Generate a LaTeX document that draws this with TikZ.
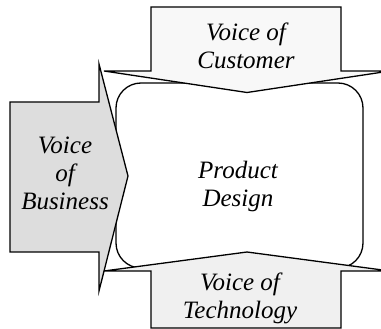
\documentclass[tikz,border=0pt]{standalone}
\usepackage{fontspec}
\setmainfont{Liberation Serif}[ItalicFont={Liberation Serif Italic}]
\begin{document}
\begin{tikzpicture}[x=1pt,y=-1pt,
  outline/.style={draw=black, line width=1.3pt, line join=miter},
  lbl/.style={font=\fontsize{25}{28}\selectfont\itshape, align=center, inner sep=0pt}]
\useasboundingbox (0,0) rectangle (381,329);
% product design box
\draw[outline, fill=white, rounded corners=25pt] (116,83) rectangle (363,268);
\node[lbl] (pd) at (238,186) {Product\\Design};
% top arrow (customer)
\draw[outline, fill={rgb,255:red,248;green,248;blue,248}]
  (151,7) -- (341,7) -- (341,71) -- (390,71) -- (247,92.5) -- (104,71) -- (151,71) -- cycle;
\node[lbl] (voc) at (246,46) {Voice of\\Customer};
% bottom arrow (technology)
\draw[outline, fill={rgb,255:red,240;green,240;blue,240}]
  (151,328) -- (341,328) -- (341,271) -- (390,271) -- (247,252) -- (104,271) -- (151,271) -- cycle;
\node[lbl] (vot) at (240,298) {Voice of\\Technology};
% left arrow (business)
\draw[outline, fill={rgb,255:red,221;green,221;blue,221}]
  (10,102) -- (99,102) -- (99,64) -- (128,176) -- (99,291) -- (99,252) -- (10,252) -- cycle;
\node[lbl] (vob) at (65,173) {Voice\\of\\Business};
\end{tikzpicture}
\end{document}
